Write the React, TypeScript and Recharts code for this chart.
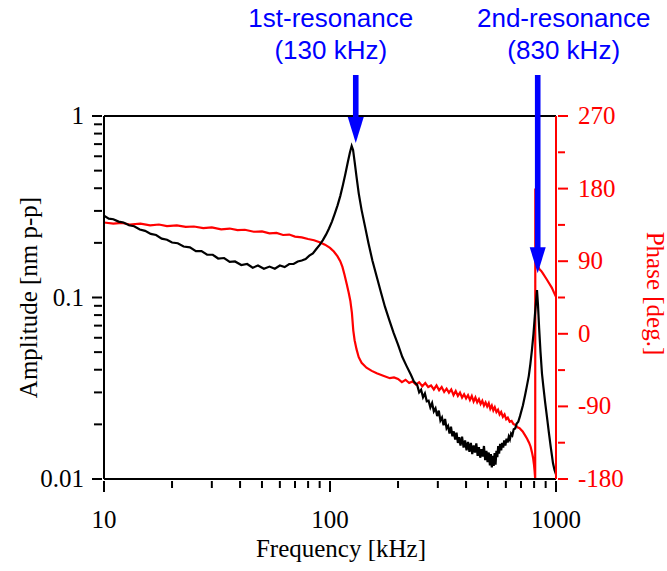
import { LineChart, Line, XAxis, YAxis, ReferenceLine, ReferenceDot } from 'recharts'

// frequency [kHz] vs amplitude [nm p-p]
const amplitude: [number, number][] = [
  [10, 0.282], [10.5, 0.272], [11, 0.27], [11.6, 0.262], [12.2, 0.259], [12.9, 0.25],
  [13.6, 0.247], [14.4, 0.237], [15.2, 0.233], [16.1, 0.224], [17, 0.221], [18, 0.211],
  [19, 0.208], [20, 0.201], [21.2, 0.199], [22.5, 0.191], [24, 0.189], [25.5, 0.18],
  [27, 0.18], [28.6, 0.172], [30.3, 0.172], [32, 0.164], [34, 0.165], [36, 0.157],
  [38, 0.158], [40.5, 0.151], [43, 0.153], [45.5, 0.146], [48, 0.15], [51, 0.144],
  [54, 0.148], [57, 0.144], [60, 0.15], [63, 0.147], [66, 0.153], [69, 0.153],
  [72, 0.158], [75, 0.16], [78, 0.163], [81, 0.17], [84, 0.175], [87, 0.185],
  [90, 0.195], [93, 0.207], [96, 0.222], [99, 0.24], [102, 0.262], [105, 0.29],
  [108, 0.322], [111, 0.362], [114, 0.415], [117, 0.48], [120, 0.56], [122.5, 0.63],
  [124.7, 0.684], [126.5, 0.65], [128.5, 0.56], [131, 0.463], [134, 0.375], [138, 0.303],
  [143, 0.245], [148, 0.199], [154, 0.16], [161, 0.13], [168, 0.107], [175, 0.089],
  [183, 0.075], [191, 0.064], [200, 0.055], [209, 0.047], [218, 0.042], [228, 0.0375],
  [235, 0.0345], [243, 0.033], [248, 0.03], [253, 0.031], [258, 0.0282], [263, 0.0296],
  [268, 0.0268], [273, 0.027], [278, 0.0248], [283, 0.0262], [288, 0.0236], [293, 0.0245],
  [298, 0.0222], [303, 0.0238], [308, 0.021], [313, 0.0218], [318, 0.0198], [323, 0.0214],
  [328, 0.019], [333, 0.0196], [338, 0.0178], [343, 0.0194], [348, 0.0172], [353, 0.0183],
  [358, 0.0165], [363, 0.018], [368, 0.0158], [373, 0.017], [378, 0.0153], [384, 0.0171],
  [390, 0.0149], [396, 0.0163], [402, 0.0144], [408, 0.016], [414, 0.0141], [420, 0.0158],
  [426, 0.0137], [432, 0.0153], [438, 0.014], [444, 0.0157], [450, 0.0134], [456, 0.015],
  [462, 0.0131], [468, 0.0146], [474, 0.0133], [480, 0.0152], [486, 0.0127], [492, 0.0143],
  [498, 0.0124], [504, 0.014], [510, 0.0119], [515, 0.0137], [520, 0.0116], [525, 0.0134],
  [530, 0.0118], [535, 0.0139], [540, 0.012], [545, 0.0143], [550, 0.0132], [555, 0.0152],
  [560, 0.0138], [566, 0.0156], [572, 0.0144], [578, 0.0158], [584, 0.0149], [590, 0.0163],
  [597, 0.0153], [604, 0.0167], [611, 0.0159], [618, 0.0171], [625, 0.0165], [633, 0.0178],
  [641, 0.0174], [650, 0.0188], [660, 0.019], [670, 0.0202], [681, 0.0207], [693, 0.0222],
  [714, 0.0255], [730, 0.029], [745, 0.033], [758, 0.037], [770, 0.043], [782, 0.051],
  [795, 0.063], [806, 0.079], [816, 0.095], [824, 0.11], [832, 0.092], [842, 0.068],
  [854, 0.05], [867, 0.038], [880, 0.032], [895, 0.0265], [912, 0.022], [930, 0.018],
  [948, 0.015], [970, 0.0122], [985, 0.0112], [1000, 0.0106],
]

// frequency [kHz] vs phase [deg.]
const phase: [number, number][] = [
  [10, 138], [11, 136.5], [12, 137.5], [13, 135.5], [14.5, 136.5], [16, 134.5],
  [17.5, 135.5], [19, 133.5], [21, 134.5], [23, 132.5], [25, 133], [27.5, 131],
  [30, 132], [33, 129.5], [36, 130.5], [39, 128.5], [42, 129], [46, 126.5],
  [50, 127], [54, 124.5], [58, 125], [62, 122.5], [66, 123], [70, 120.5],
  [75, 119.5], [80, 117.5], [85, 116], [90, 113.5], [95, 110.5], [100, 106.5],
  [104, 102], [108, 96], [111, 90], [113.5, 83], [116, 73], [118.5, 62],
  [121, 51], [123, 41], [125, 26], [126.8, 4], [128.5, -8], [131, -19],
  [134, -29], [138, -36], [145, -42], [153, -46], [161, -49], [172, -52],
  [184, -55], [192, -54], [200, -56], [208, -60], [216, -57], [224, -61],
  [232, -59], [240, -63], [248, -60], [256, -65], [264, -61], [272, -66],
  [280, -64], [288, -69], [296, -64], [304, -70], [312, -66], [320, -72],
  [328, -68], [336, -73], [344, -69], [352, -76], [360, -71], [368, -77],
  [376, -73], [384, -79], [392, -75], [400, -80], [408, -76], [416, -82],
  [424, -77], [432, -84], [440, -79], [448, -85], [456, -81], [464, -87],
  [472, -83], [480, -89], [488, -85], [496, -90], [504, -86], [512, -93],
  [520, -89], [528, -95], [536, -91], [545, -97], [554, -94], [563, -100],
  [572, -97], [582, -103], [592, -100], [602, -106], [612, -104], [624, -109],
  [636, -108], [648, -112], [662, -113], [676, -116], [690, -117], [712, -121],
  [730, -126], [745, -130], [760, -135], [772, -140], [783, -147], [792, -154],
  [799, -162], [804, -170], [807, -176], [809, -180], [810, 180], [812, 92],
  [822, 89], [832, 84], [845, 80], [860, 78], [875, 75], [893, 71],
  [912, 67], [935, 62], [959, 57], [980, 51], [1000, 46],
]

const freqTicks = [10, 20, 30, 40, 50, 60, 70, 80, 90, 100, 200, 300, 400, 500, 600, 700, 800, 900, 1000]
const freqLabels = [10, 100, 1000]
const ampTicks = [
  0.01, 0.02, 0.03, 0.04, 0.05, 0.06, 0.07, 0.08, 0.09,
  0.1, 0.2, 0.3, 0.4, 0.5, 0.6, 0.7, 0.8, 0.9, 1,
]
const ampLabels = ['0.01', '0.1', '1']
const phaseTicks = [-180, -135, -90, -45, 0, 45, 90, 135, 180, 225, 270]
const phaseLabels = [-180, -90, 0, 90, 180, 270]

const resonanceNames = ['1st-resonance', '2nd-resonance']
const resonanceFreqText = ['(130 kHz)', '(830 kHz)']
const resonanceFreq = [130, 830]
const resonanceTip = [0.71, 0.136]

const ampData = amplitude.map(([f, a]) => ({ f, a }))
const phaseData = phase.map(([f, p]) => ({ f, p }))

const SERIF = '"Liberation Serif", "Times New Roman", serif'
const SANS = '"Liberation Sans", Arial, sans-serif'
const RED = '#ff0000'
const BLUE = '#0000ff'

const FreqTick = (props: any) => {
  const { x, y, payload } = props
  const major = freqLabels.includes(payload.value)
  return (
    <g>
      <line x1={x} x2={x} y1={y} y2={y + (major ? 11 : 7)} stroke="#000" strokeWidth={2} />
      {major && (
        <text x={x} y={y + 47} textAnchor="middle" fontFamily={SERIF} fontSize={25} fill="#000">
          {payload.value}
        </text>
      )}
    </g>
  )
}

const AmpTick = (props: any) => {
  const { x, y, payload } = props
  const label = ampLabels.find((s) => Number(s) === payload.value)
  return (
    <g>
      <line x1={x - (label ? 10 : 8)} x2={x} y1={y} y2={y} stroke="#000" strokeWidth={2} />
      {label && (
        <text x={x - 18} y={y + 8} textAnchor="end" fontFamily={SERIF} fontSize={25} fill="#000">
          {label}
        </text>
      )}
    </g>
  )
}

const PhaseTick = (props: any) => {
  const { x, y, payload } = props
  const major = phaseLabels.includes(payload.value)
  return (
    <g>
      <line x1={x} x2={x + (major ? 10 : 7)} y1={y} y2={y} stroke={RED} strokeWidth={2} />
      {major && (
        <text x={x + 20} y={y + 8} textAnchor="start" fontFamily={SERIF} fontSize={25} fill={RED}>
          {payload.value}
        </text>
      )}
    </g>
  )
}

// blue arrow pointing down at a resonance, with its caption above
const resonanceArrow = (i: number) => (props: any) => {
  const { cx, cy } = props
  const top = 75
  const headH = 26
  const headW = 8
  const tx = cx + (i === 0 ? -25 : 26)
  return (
    <g>
      <rect x={cx - 2.8} y={top} width={5.6} height={cy - headH - top + 1} fill={BLUE} />
      <polygon points={`${cx - headW},${cy - headH} ${cx + headW},${cy - headH} ${cx},${cy}`} fill={BLUE} />
      <text x={tx} y={27} textAnchor="middle" fontFamily={SANS} fontSize={26} fill={BLUE}>
        {resonanceNames[i]}
      </text>
      <text x={tx} y={59} textAnchor="middle" fontFamily={SANS} fontSize={26} fill={BLUE}>
        {resonanceFreqText[i]}
      </text>
    </g>
  )
}

const ampTitle = (props: any) => {
  const vb = props.viewBox
  const cx = vb.x + 28
  const cy = vb.y + vb.height / 2
  return (
    <text x={cx} y={cy} transform={`rotate(-90 ${cx} ${cy})`} textAnchor="middle" dominantBaseline="central"
      fontFamily={SERIF} fontSize={25} fill="#000">
      Amplitude [nm p-p]
    </text>
  )
}

const phaseTitle = (props: any) => {
  const vb = props.viewBox
  const cx = vb.x + 99
  const cy = vb.y + vb.height / 2 - 4
  return (
    <text x={cx} y={cy} transform={`rotate(90 ${cx} ${cy})`} textAnchor="middle" dominantBaseline="central"
      fontFamily={SERIF} fontSize={25} fill={RED}>
      Phase [deg.]
    </text>
  )
}

const freqTitle = (props: any) => {
  const vb = props.viewBox
  return (
    <text x={vb.x + vb.width / 2 + 11} y={vb.y + 78} textAnchor="middle" fontFamily={SERIF} fontSize={25} fill="#000">
      Frequency [kHz]
    </text>
  )
}

export default function App() {
  return (
    <div style={{ position: 'absolute', left: 0, top: 0, width: 667, height: 571, background: '#fff' }}>
      <LineChart width={667} height={571} margin={{ top: 116, right: 0, bottom: 0, left: 0 }}>
        <XAxis
          dataKey="f"
          type="number"
          scale="log"
          domain={[10, 1000]}
          ticks={freqTicks}
          interval={0}
          height={92}
          tickSize={0}
          tickLine={false}
          axisLine={{ stroke: '#000', strokeWidth: 2 }}
          tick={FreqTick}
          label={freqTitle}
          allowDataOverflow
        />
        <YAxis
          yAxisId="amp"
          type="number"
          scale="log"
          domain={[0.01, 1]}
          ticks={ampTicks}
          interval={0}
          width={104}
          tickSize={0}
          tickLine={false}
          axisLine={{ stroke: '#000', strokeWidth: 2 }}
          tick={AmpTick}
          label={ampTitle}
          allowDataOverflow
        />
        <YAxis
          yAxisId="phase"
          orientation="right"
          type="number"
          domain={[-180, 270]}
          ticks={phaseTicks}
          interval={0}
          width={111}
          tickSize={0}
          tickLine={false}
          axisLine={{ stroke: RED, strokeWidth: 2 }}
          tick={PhaseTick}
          label={phaseTitle}
          allowDataOverflow
        />
        <ReferenceLine yAxisId="amp" y={1} stroke="#000" strokeWidth={2} />
        <Line
          yAxisId="phase"
          data={phaseData}
          dataKey="p"
          stroke={RED}
          strokeWidth={2.2}
          dot={false}
          isAnimationActive={false}
        />
        <Line
          yAxisId="amp"
          data={ampData}
          dataKey="a"
          stroke="#000"
          strokeWidth={2.2}
          dot={false}
          isAnimationActive={false}
        />
        {resonanceFreq.map((f, i) => (
          <ReferenceDot
            key={f}
            yAxisId="amp"
            x={f}
            y={resonanceTip[i]}
            ifOverflow="visible"
            shape={resonanceArrow(i)}
          />
        ))}
      </LineChart>
    </div>
  )
}
